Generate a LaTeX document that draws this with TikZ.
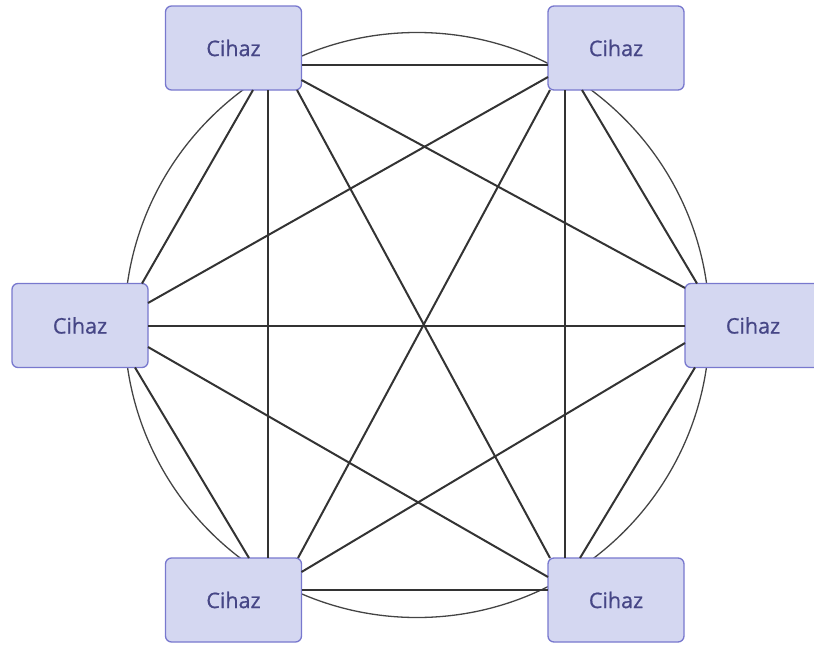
\documentclass[tikz,border=0pt]{standalone}
\usepackage{fontspec}
\setmainfont{Open Sans}
\newfontfamily\lblfont{Open Sans}[FakeBold=0.8]
\usetikzlibrary{calc}
\definecolor{nodefill}{HTML}{D4D7F1}
\definecolor{nodedraw}{HTML}{7878CE}
\definecolor{nodetext}{HTML}{464686}
\definecolor{edgecol}{HTML}{333333}
\definecolor{arccol}{HTML}{444444}
\begin{document}
\begin{tikzpicture}[x=1pt,y=-1pt,
  dev/.style={draw=nodedraw, fill=nodefill, line width=1.3pt, rounded corners=6pt,
    minimum width=136pt, minimum height=84pt, inner sep=0pt, outer sep=0pt,
    text=nodetext, font=\lblfont\fontsize{21.5}{24}\selectfont},
  edge/.style={draw=edgecol, line width=2pt},
  ring/.style={draw=arccol, line width=1.3pt}]
\useasboundingbox (0,0) rectangle (814,645);
\clip (0,0) rectangle (814,645);
% ring of curved links
\draw[ring] (417,325) circle (292.5);
% devices
\node[dev] (tl) at (233.5,48) {Cihaz};
\node[dev] (tr) at (616,48) {Cihaz};
\node[dev] (l)  at (80,325.5) {Cihaz};
\node[dev] (r)  at (753,325.5) {Cihaz};
\node[dev] (bl) at (233.5,600) {Cihaz};
\node[dev] (br) at (616,600) {Cihaz};
% straight links
\draw[edge] ([shift={(0,17)}]tl.east) -- ([shift={(0,17)}]tr.west);
\draw[edge] ([shift={(0,32)}]tl.east) -- ([shift={(0,-37.5)}]r.west);
\draw[edge] ([shift={(63.5,0)}]tl.south) -- ([shift={(-66,0)}]br.north);
\draw[edge] ([shift={(34.5,0)}]tl.south) -- ([shift={(34.5,0)}]bl.north);
\draw[edge] ([shift={(19.5,0)}]tl.south) -- ([shift={(62,0)}]l.north);
\draw[edge] ([shift={(0,29)}]tr.west) -- ([shift={(0,-22.5)}]l.east);
\draw[edge] ([shift={(-66,0)}]tr.south) -- ([shift={(64.5,0)}]bl.north);
\draw[edge] ([shift={(-51,0)}]tr.south) -- ([shift={(-51,0)}]br.north);
\draw[edge] ([shift={(-34,0)}]tr.south) -- ([shift={(-56,0)}]r.north);
\draw[edge] ([shift={(0,0.5)}]l.east) -- ([shift={(0,0.5)}]r.west);
\draw[edge] ([shift={(0,21.5)}]l.east) -- ([shift={(0,-23)}]br.west);
\draw[edge] ([shift={(55,0)}]l.south) -- ([shift={(15.5,0)}]bl.north);
\draw[edge] ([shift={(0,17.5)}]r.west) -- ([shift={(0,-28)}]bl.east);
\draw[edge] ([shift={(-58,0)}]r.south) -- ([shift={(-36,0)}]br.north);
\draw[edge] ([shift={(0,-10)}]bl.east) -- ([shift={(0,-10)}]br.west);
\end{tikzpicture}
\end{document}
